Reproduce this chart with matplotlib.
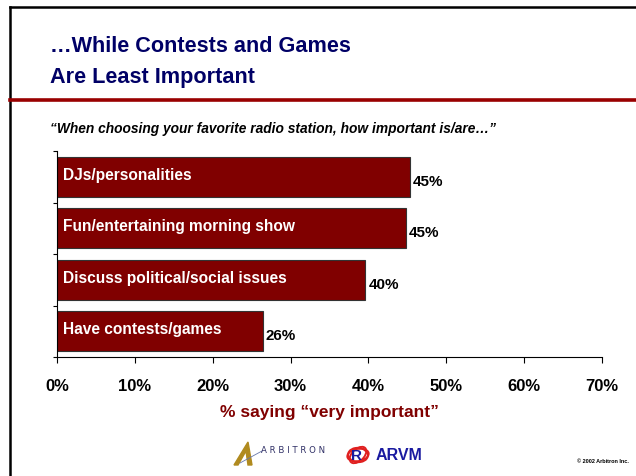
import matplotlib.pyplot as plt
from matplotlib.patches import Polygon, Ellipse
from matplotlib.lines import Line2D

# survey answers, top bar first
items = ["DJs/personalities", "Fun/entertaining morning show",
         "Discuss political/social issues", "Have contests/games"]
shares = [45.3, 44.8, 39.6, 26.4]
ticks = [0, 10, 20, 30, 40, 50, 60, 70]

navy = "#000066"
maroon = "#800000"
font = "Liberation Sans"


def main():
    fig = plt.figure(figsize=(6.36, 4.77), dpi=100)
    W, H = 636, 477

    def fx(px):
        return px / W

    def fy(py):
        return 1 - py / H

    # slide frame and rule under the title
    fig.add_artist(Line2D([fx(10), fx(10)], [fy(8), 0], color="k", lw=1.8))
    fig.add_artist(Line2D([fx(10), 1], [fy(8), fy(8)], color="k", lw=1.8))
    fig.add_artist(Line2D([fx(10), 1], [fy(101), fy(101)], color="#990000", lw=2.6))

    fig.text(fx(50), fy(46), "\u2026While Contests and Games", color=navy,
             fontsize=15.6, fontweight="bold", va="center", family=font)
    fig.text(fx(50), fy(78), "Are Least Important", color=navy,
             fontsize=15.6, fontweight="bold", va="center", family=font)
    fig.text(fx(50), fy(129),
             "\u201cWhen choosing your favorite radio station, how important is/are\u2026\u201d",
             fontsize=9.9, fontweight="bold", style="italic", va="center", family=font)

    ax = fig.add_axes([fx(57), fy(358), fx(602) - fx(57), fy(152) - fy(358)])
    pos = list(range(len(items)))[::-1]
    ax.barh(pos, shares, height=0.78, color=maroon, edgecolor="#333333", linewidth=0.8)
    for p, name, v in zip(pos, items, shares):
        ax.text(0.75, p + 0.05, name, color="white", fontsize=11.2, fontweight="bold",
                va="center", family=font)
        ax.text(v + 0.4, p - 0.08, f"{round(v)}%", color="k", fontsize=10.9,
                fontweight="bold", va="center", family=font)

    ax.set_xlim(0, 70)
    ax.set_ylim(-0.5, 3.5)
    ax.set_xticks(ticks)
    ax.set_xticklabels([f"{t}%" for t in ticks], fontsize=12, fontweight="bold",
                       family=font)
    ax.set_yticks([-0.5, 0.5, 1.5, 2.5, 3.5])
    ax.set_yticklabels([])
    ax.tick_params(axis="x", length=4, width=0.8, pad=11)
    ax.tick_params(axis="y", length=3, width=0.8)
    for s in ["top", "right"]:
        ax.spines[s].set_visible(False)
    ax.spines["left"].set_linewidth(0.8)
    ax.spines["bottom"].set_linewidth(0.8)
    ax.set_xlabel("% saying \u201cvery important\u201d", color=maroon, fontsize=12.5,
                  fontweight="bold", labelpad=8, family=font)

    # logos in the footer
    fig.add_artist(Polygon([[fx(234), fy(466)], [fx(248), fy(443)], [fx(252), fy(466)],
                            [fx(248), fy(466)], [fx(246), fy(452)], [fx(238), fy(466)]],
                           closed=True, color="#b08a1e", transform=fig.transFigure))
    fig.add_artist(Line2D([fx(240), fx(262)], [fy(464), fy(452)], color="#6677aa", lw=0.6))
    fig.text(fx(261), fy(451), "A R B I T R O N", color="#303066", fontsize=6.2,
             family="DejaVu Sans", va="center")
    for w, h, a in [(22, 12, 20), (20, 14, -30), (24, 10, 60)]:
        fig.add_artist(Ellipse((fx(358), fy(456)), fx(w), h / H, angle=a, fill=False,
                               edgecolor="#e02020", lw=1.4, transform=fig.transFigure))
    fig.text(fx(351), fy(456), "R", color="#1a1aa0", fontsize=11, fontweight="bold",
             va="center", family=font)
    fig.text(fx(376), fy(456), "ARVM", color="#1a1aa0", fontsize=11.5, fontweight="bold",
             va="center", family=font)
    fig.text(fx(577), fy(462), "\u00a9 2002 Arbitron Inc.", fontsize=4, fontweight="bold",
             va="center", family=font)

    fig.savefig("out.png", dpi=100)


if __name__ == "__main__":
    main()
